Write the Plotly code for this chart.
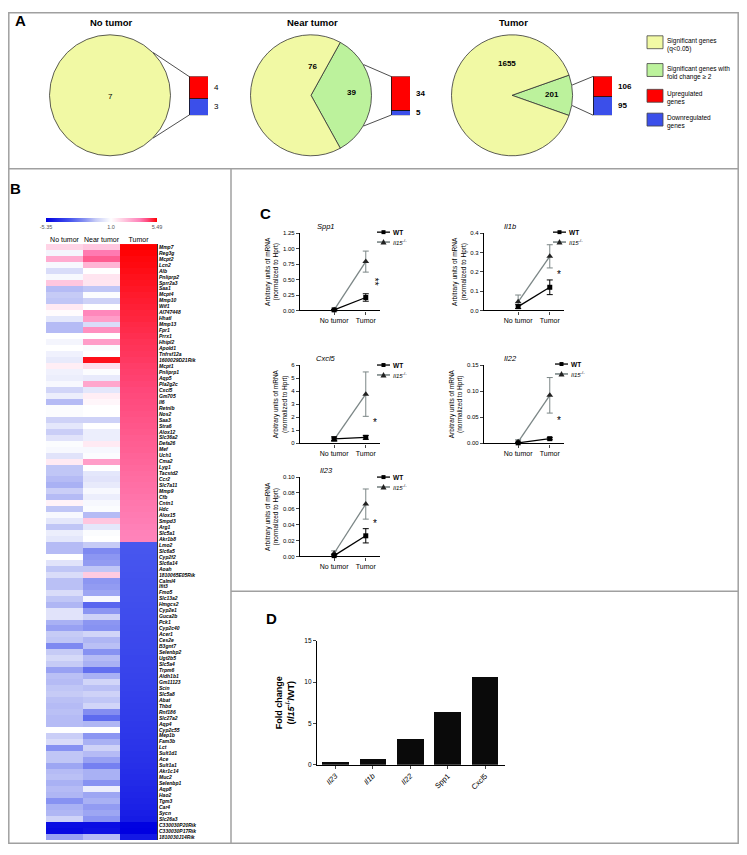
import math
import plotly.graph_objects as go

# the page body keeps an 8 px margin, so the figure is placed at (8, 8)
OFF = 8
W, H = 731, 839


def fx(p):
    return (p - OFF) / W


def fy(p):
    return 1 - (p - OFF) / H


# ---------------- panel A data
pie_groups = ["No tumor", "Near tumor", "Tumor"]
sig_only = [7, 76, 1655]
sig_fold = [0, 39, 201]
up_genes = [4, 34, 106]
down_genes = [3, 5, 95]

# ---------------- panel B data
genes = [
    "Mmp7", "Reg3g", "Mcpt2", "Lcn2", "Alb", "Pnliprp2", "Sprr2a3", "Saa1", "Mcpt4", "Mmp10",
    "Wif1", "AI747448", "Hhatl", "Mmp13", "Fpr1", "Prrx1", "Hhipl2", "Apold1", "Tnfrsf12a", "1600029D21Rik",
    "Mcpt1", "Pnliprp1", "Aqp5", "Pla2g2c", "Cxcl5", "Gm705", "Il6", "Retnlb", "Nos2", "Saa3",
    "Stra6", "Alox12", "Slc36a2", "Defa26", "Mef", "Uch1", "Cma2", "Lyg1", "Tacstd2", "Ccr2",
    "Slc7a11", "Mmp9", "Cfb", "Cntn1", "Hdc", "Alox15", "Smpd3", "Arg1", "Slc5a1", "Akr1b8",
    "Lmo2", "Slc6a5", "Cyp2f2", "Slc6a14", "Aoah", "1810065E05Rik", "Calml4", "Ifit3", "Fmo5", "Slc13a2",
    "Hmgcs2", "Cyp2e1", "Guca2b", "Pck1", "Cyp2c40", "Acer1", "Ces2e", "B3gnt7", "Selenbp2", "Ugt2b5",
    "Slc5a4", "Trpm6", "Aldh1b1", "Gm11123", "Scin", "Slc5a8", "Abat", "Thbd", "Rnf186", "Slc27a2",
    "Aqp4", "Cyp2c55", "Mep1b", "Fam3b", "Lct", "Sult1d1", "Ace", "Sult1a1", "Akr1c14", "Muc2",
    "Selenbp1", "Aqp8", "Hao2", "Tgm3", "Car4", "Sycn", "Slc26a3", "C330030P20Rik", "C330030P17Rik", "1810030J14Rik",
]
heat_cols = ["No tumor", "Near tumor", "Tumor"]
no_tumor = [
    2.0, 0.7, 2.9, 0.8, 0.0, 0.8, 2.3, -0.8, -0.5, -0.6, 1.5, 1.1, 0.3, -0.8, -0.8, 1.0, 0.7, 1.0,
    0.6, 0.4, 1.4, 0.6, 0.5, 0.8, -0.2, 0.5, -0.8, 0.9, 0.9, -0.3, 0.3, -0.4, 0.2, 0.9, 0.8, 0.2,
    1.5, -0.6, -0.6, -0.8, -1.0, -0.4, -0.8, 1.3, -0.6, 0.8, 0.3, -0.6, 0.5, 0.3,
    -0.8, -0.8, 1.0, 0.2, -0.6, 0.0, -0.7, -0.7, 0.0, -0.6, -0.9, 0.2, 0.2, -1.0, -1.3, -0.5,
    -0.6, -1.8, -0.5, -0.1, -0.5, -1.3, -0.7, -0.8,
    -0.6, -0.5, -0.7, -0.8, -0.7, -0.8, -0.8, 1.0, -0.4, 0.0, -1.6, -0.6, -0.6, -1.2, -0.8, -0.7,
    -1.0, -0.8, -0.9, -1.6, -1.0, -0.9, -0.3, -5.0, -5.1, -1.3,
]
near_tumor = [
    2.3, 3.9, 4.3, 2.7, 1.0, 1.6, 1.6, -0.6, 0.9, -0.3, 1.0, 3.7, 3.2, 0.0, 3.5, 1.0, 3.2, 0.9,
    1.0, 5.3, 1.8, 0.9, 0.4, 3.0, 0.3, 1.4, 1.2, 1.0, 1.0, -0.3, 1.0, 0.5, 0.5, 1.5, 0.8, 0.9,
    3.2, 1.0, 0.3, 0.2, 0.4, 0.8, 0.5, 0.8, 0.9, -0.8, 2.3, 0.3, 0.9, 1.0,
    -0.5, -1.8, -1.5, -1.4, -0.6, 2.2, -1.5, -1.4, -1.2, 0.8, -2.6, -1.5, -0.3, -1.5, -1.6, -0.2,
    -0.9, -0.7, -1.6, -0.8, -1.0, -2.4, -1.0, -0.2,
    -0.7, -0.3, -0.6, -0.2, -1.7, -2.5, -0.9, 1.0, -1.5, -1.0, -0.3, -0.8, -1.3, -2.0, -1.0, -1.0,
    -1.6, 0.5, -1.2, -1.0, -1.4, -1.2, -1.5, -5.0, -4.9, -0.8,
]
tumor = [
    5.49, 5.45, 5.40, 5.37, 5.33, 5.28, 5.25, 5.21, 5.16, 5.13, 5.09, 5.05, 5.02, 4.97, 4.94,
    4.90, 4.86, 4.83, 4.80, 4.76, 4.72, 4.69, 4.66, 4.62, 4.58, 4.55, 4.52, 4.49, 4.45, 4.41,
    4.38, 4.35, 4.31, 4.28, 4.25, 4.21, 4.18, 4.15, 4.11, 4.08, 4.05, 4.02, 3.98, 3.95, 3.92,
    3.89, 3.86, 3.83, 3.80, 3.78,
    -2.95, -2.98, -3.0, -3.03, -3.05, -3.08, -3.1, -3.12, -3.15, -3.17, -3.2, -3.22, -3.25,
    -3.27, -3.3, -3.32, -3.35, -3.37, -3.4, -3.43, -3.45, -3.48, -3.5, -3.53,
    -3.56, -3.6, -3.63, -3.66, -3.7, -3.73, -3.77, -3.8, -3.84, -3.88, -3.92, -3.96, -4.0,
    -4.05, -4.1, -4.15, -4.2, -4.26, -4.32, -4.38, -4.45, -4.52, -4.6, -5.3, -5.35, -4.7,
]
heat_min, heat_mid, heat_max = -5.35, 1.0, 5.49

# ---------------- panel C data
c_genes = ["Spp1", "Il1b", "Cxcl5", "Il22", "Il23"]
c_groups = ["No tumor", "Tumor"]
wt_nt = [0.01, 0.02, 0.35, 0.001, 0.001]
wt_nt_err = [0.005, 0.01, 0.15, 0.001, 0.001]
wt_t = [0.21, 0.12, 0.46, 0.009, 0.026]
wt_t_err = [0.06, 0.038, 0.15, 0.002, 0.009]
ko_nt = [0.01, 0.045, 0.28, 0.003, 0.004]
ko_nt_err = [0.01, 0.035, 0.12, 0.004, 0.003]
ko_t = [0.79, 0.28, 3.77, 0.092, 0.066]
ko_t_err = [0.17, 0.06, 1.7, 0.034, 0.019]
c_ymax = [1.25, 0.4, 6, 0.15, 0.10]
c_dtick = [0.25, 0.1, 1, 0.05, 0.02]
c_fmt = [".2f", ".1f", "d", ".2f", ".2f"]
c_stars = ["**", "*", "*", "*", "*"]
c_star_y = [0.46, 0.185, 1.58, 0.043, 0.041]

# ---------------- panel D data
d_genes = ["Il23", "Il1b", "Il22", "Spp1", "Cxcl5"]
d_italic = [True, True, True, False, False]
d_fold = [0.36, 0.72, 3.05, 6.38, 10.55]

FONT = "Liberation Sans, Arial, sans-serif"
yellow = "#F1F9A4"
green = "#BCF29C"
red = "#FF0000"
blue = "#3B4FEA"
ko_name = "<i>Il15</i><sup>-/-</sup>"

fig = go.Figure()
lay = {}
shapes = []
ann = []


def note(x, y, text, size=7, **kw):
    d = dict(x=fx(x), y=fy(y), xref="paper", yref="paper", text=text, showarrow=False,
             xanchor="center", yanchor="middle",
             font=dict(size=size, family=FONT, color="black"))
    d.update(kw)
    ann.append(d)


def pline(x0, y0, x1, y1, color="#222", width=0.8):
    shapes.append(dict(type="line", xref="paper", yref="paper", x0=fx(x0), y0=fy(y0),
                       x1=fx(x1), y1=fy(y1), line=dict(color=color, width=width)))


# ---------------- panel A
pie_cx = [110, 311, 512]
pie_cy, pie_r = 92, 61
bar_x0 = [189, 391, 593]
bar_top, bar_bot = 73, 112
num_pos = [[(110, 93, None)], [(312, 63, 0), (351, 89, 1)], [(507, 60, 0), (552, 91, 1)]]

for i, g in enumerate(pie_groups):
    cx = pie_cx[i]
    total = sig_only[i] + sig_fold[i]
    frac = sig_fold[i] / total
    if sig_fold[i] > 0:
        vals, cols = [sig_fold[i], sig_only[i]], [green, yellow]
    else:
        vals, cols = [sig_only[i]], [yellow]
    fig.add_trace(go.Pie(
        values=vals, sort=False, direction="clockwise", rotation=90 - 180 * frac,
        marker=dict(colors=cols, line=dict(color="#333333", width=0.8)),
        textinfo="none", hoverinfo="skip", showlegend=False,
        domain=dict(x=[fx(cx - pie_r), fx(cx + pie_r)], y=[fy(pie_cy + pie_r), fy(pie_cy - pie_r)]),
    ))
    note(cx + 1, 19, "<b>%s</b>" % g, size=9.5)

    for (x, y, which) in num_pos[i]:
        if which is None:
            note(x, y, "%d" % total, size=8)
        else:
            note(x, y, "<b>%d</b>" % (sig_only[i] if which == 0 else sig_fold[i]), size=8)

    # stacked up/down bar
    ax = "" if i == 0 else str(i + 1)
    s = up_genes[i] + down_genes[i]
    fig.add_trace(go.Bar(x=[0], y=[down_genes[i] / s], width=1, marker=dict(color=blue, line=dict(color="#111", width=0.8)),
                         xaxis="x" + ax, yaxis="y" + ax, showlegend=False, hoverinfo="skip"))
    fig.add_trace(go.Bar(x=[0], y=[up_genes[i] / s], width=1, marker=dict(color=red, line=dict(color="#111", width=0.8)),
                         xaxis="x" + ax, yaxis="y" + ax, showlegend=False, hoverinfo="skip"))
    lay["xaxis" + ax] = dict(domain=[fx(bar_x0[i]), fx(bar_x0[i] + 19)], range=[-0.5, 0.5], visible=False,
                             anchor="y" + ax, fixedrange=True)
    lay["yaxis" + ax] = dict(domain=[fy(bar_bot), fy(bar_top)], range=[0, 1], visible=False,
                             anchor="x" + ax, fixedrange=True)
    bold = "%d" if i == 0 else "<b>%d</b>"
    ann.append(dict(x=0.5, y=down_genes[i] / s + up_genes[i] / s / 2, xref="x" + ax, yref="y" + ax,
                    text=bold % up_genes[i], showarrow=False, xanchor="left", xshift=4,
                    font=dict(size=8, family=FONT, color="black")))
    ann.append(dict(x=0.5, y=down_genes[i] / s / 2, xref="x" + ax, yref="y" + ax,
                    text=bold % down_genes[i], showarrow=False, xanchor="left", xshift=4,
                    font=dict(size=8, family=FONT, color="black")))

    # connector lines from the pie to the bar
    half = 180 * frac / 2 if frac > 0 else 45
    px_ = cx + pie_r * math.cos(math.radians(half))
    dy_ = pie_r * math.sin(math.radians(half))
    pline(px_, pie_cy - dy_, bar_x0[i], bar_top)
    pline(px_, pie_cy + dy_, bar_x0[i], bar_bot)

# legend of panel A
leg_items = [(yellow, 32, "Significant genes<br>(q<0.05)"),
             (green, 60, "Significant genes with<br>fold change \u2265 2"),
             (red, 86, "Upregulated<br>genes"),
             (blue, 110, "Downregulated<br>genes")]
for col, y0, txt in leg_items:
    shapes.append(dict(type="rect", xref="paper", yref="paper", x0=fx(647), x1=fx(663), y0=fy(y0), y1=fy(y0 + 13),
                       fillcolor=col, line=dict(color="#444", width=0.8)))
    note(665, y0 - 1, txt, size=6.5, xanchor="left", yanchor="top", align="left")

# ---------------- panel B heatmap
z = [[no_tumor[k], near_tumor[k], tumor[k]] for k in range(len(genes))]
pos = lambda v: (v - heat_min) / (heat_max - heat_min)
cscale = [[0, "rgb(0,0,225)"], [pos(-3.0), "rgb(70,85,238)"], [pos(-1.5), "rgb(140,150,242)"],
          [pos(-0.5), "rgb(198,203,246)"], [pos(heat_mid), "rgb(255,255,255)"], [pos(2.0), "rgb(255,212,230)"],
          [pos(3.8), "rgb(255,130,185)"], [pos(4.6), "rgb(255,70,120)"], [1, "rgb(255,0,0)"]]
fig.add_trace(go.Heatmap(
    z=z, x=[0, 1, 2], y=list(range(len(genes))), zmin=heat_min, zmax=heat_max, colorscale=cscale,
    xaxis="x4", yaxis="y4", hoverinfo="skip",
    colorbar=dict(orientation="h", x=fx(101.5), xanchor="center", y=fy(216), yanchor="top",
                  len=111, lenmode="pixels", thickness=4, thicknessmode="pixels",
                  tickvals=[heat_min, heat_mid, heat_max], ticktext=["-5.35", "1.0", "5.49"],
                  tickfont=dict(size=5.5, color="#555", family=FONT), ticks="", outlinewidth=0,
                  xpad=0, ypad=0),
))
lay["xaxis4"] = dict(domain=[fx(46), fx(157)], range=[-0.5, 2.5], anchor="y4", side="top",
                     tickvals=[0, 1, 2], ticktext=heat_cols, ticks="", showgrid=False, zeroline=False,
                     tickfont=dict(size=7, family=FONT, color="black"))
lay["yaxis4"] = dict(domain=[fy(843), fy(242)], range=[len(genes) - 0.5, -0.5], anchor="x4", side="right",
                     tickvals=list(range(len(genes))), ticktext=["<b><i>%s</i></b>" % g for g in genes],
                     ticks="", showgrid=False, zeroline=False, showline=True, linecolor="#333", linewidth=1,
                     tickfont=dict(size=5, family=FONT, color="black"))

# ---------------- panel C
c_box = [(300, 231, 309), (484, 231, 309), (300, 364, 443), (484, 364, 443), (300, 477, 557)]
leg_x = [377, 553, 377, 555, 377]
leg_y = [230, 230, 364, 363, 477]
wt_col = "black"
ko_col = "#7B8686"
for k, g in enumerate(c_genes):
    n = str(k + 5)
    x0, yt, yb = c_box[k]
    fig.add_trace(go.Scatter(
        x=[0, 1], y=[ko_nt[k], ko_t[k]], mode="lines+markers", name=ko_name, showlegend=False,
        line=dict(color=ko_col, width=1.3), marker=dict(symbol="triangle-up", size=6, color="#222"),
        error_y=dict(type="data", array=[ko_nt_err[k], ko_t_err[k]], color=ko_col, thickness=1, width=3),
        xaxis="x" + n, yaxis="y" + n, cliponaxis=False, hoverinfo="skip"))
    fig.add_trace(go.Scatter(
        x=[0, 1], y=[wt_nt[k], wt_t[k]], mode="lines+markers", name="WT", showlegend=False,
        line=dict(color=wt_col, width=1.3), marker=dict(symbol="square", size=5, color=wt_col),
        error_y=dict(type="data", array=[wt_nt_err[k], wt_t_err[k]], color=wt_col, thickness=1, width=3),
        xaxis="x" + n, yaxis="y" + n, cliponaxis=False, hoverinfo="skip"))
    lay["xaxis" + n] = dict(domain=[fx(x0), fx(x0 + 80)], range=[-1.08, 1.45], anchor="y" + n,
                            tickvals=[0, 1], ticktext=c_groups, ticks="outside", ticklen=3,
                            showline=True, linecolor="black", linewidth=1.3, showgrid=False, zeroline=False,
                            tickfont=dict(size=7, family=FONT, color="black"), fixedrange=True)
    lay["yaxis" + n] = dict(domain=[fy(yb), fy(yt)], range=[0, c_ymax[k]], anchor="x" + n,
                            dtick=c_dtick[k], tick0=0, tickformat=c_fmt[k], ticks="outside", ticklen=3,
                            showline=True, linecolor="black", linewidth=1.3, showgrid=False, zeroline=False,
                            tickfont=dict(size=6, family=FONT, color="black"), fixedrange=True,
                            title=dict(text="Arbitrary units of mRNA<br>(normalized to Hprt)", standoff=3,
                                       font=dict(size=6.5, family=FONT, color="black")))
    ann.append(dict(x=-0.25, y=c_ymax[k], xref="x" + n, yref="y" + n, text="<i>%s</i>" % g, showarrow=False,
                    xanchor="center", yanchor="bottom", font=dict(size=7.5, family=FONT, color="black")))
    ann.append(dict(x=1.3, y=c_star_y[k], xref="x" + n, yref="y" + n, text=c_stars[k], showarrow=False,
                    xanchor="center", yanchor="middle",
                    textangle=90 if len(c_stars[k]) > 1 else 0, font=dict(size=10, family=FONT, color="black")))

    # compact legend: line sample, marker and name
    lx, ly = leg_x[k], leg_y[k]
    pline(lx, ly, lx + 13, ly, color=wt_col, width=1.3)
    shapes.append(dict(type="rect", xref="paper", yref="paper", x0=fx(lx + 4.5), x1=fx(lx + 8.5),
                       y0=fy(ly + 2), y1=fy(ly - 2), fillcolor=wt_col, line=dict(width=0)))
    note(lx + 14, ly, "<b>WT</b>", size=6.5, xanchor="left")
    ly2 = ly + 10
    pline(lx, ly2, lx + 13, ly2, color=ko_col, width=1.6)
    tri = "M %f,%f L %f,%f L %f,%f Z" % (fx(lx + 3.5), fy(ly2 + 2.5), fx(lx + 9.5), fy(ly2 + 2.5),
                                         fx(lx + 6.5), fy(ly2 - 3))
    shapes.append(dict(type="path", xref="paper", yref="paper", path=tri, fillcolor="#222", line=dict(width=0)))
    note(lx + 14, ly2, ko_name, size=6, xanchor="left")

# ---------------- panel D
d_labels = ["<i>%s</i>" % g if it else g for g, it in zip(d_genes, d_italic)]
fig.add_trace(go.Bar(x=d_labels, y=d_fold, width=0.71, marker=dict(color="#0A0A0A", line=dict(width=0)),
                     xaxis="x10", yaxis="y10", showlegend=False, hoverinfo="skip"))
lay["xaxis10"] = dict(domain=[fx(317), fx(505)], range=[-0.49, 4.53], anchor="y10", tickangle=-45,
                      ticks="outside", ticklen=3, showline=True, linecolor="black", linewidth=1.2,
                      tickfont=dict(size=7.5, family=FONT, color="black"), fixedrange=True)
lay["yaxis10"] = dict(domain=[fy(767), fy(642)], range=[0, 15], anchor="x10", dtick=5, ticks="outside",
                      ticklen=3, showline=True, linecolor="black", linewidth=1.2, showgrid=False, zeroline=False,
                      tickfont=dict(size=6.5, family=FONT, color="black"), fixedrange=True,
                      title=dict(text="<b>Fold change</b><br><b>(<i>Il15</i><sup>-/-</sup>/WT)</b>", standoff=8,
                                 font=dict(size=9, family=FONT, color="black")))

# ---------------- frame and panel letters
frame = dict(color="#A0A0A0", width=1.5)
left, right, top, bottom = OFF + 0.8, OFF + W - 0.8, OFF + 0.8, OFF + H - 0.8
shapes.append(dict(type="rect", xref="paper", yref="paper", x0=fx(left), x1=fx(right), y0=fy(bottom), y1=fy(top), line=frame))
for (a, b, c, d) in [(left, 166, right, 166), (231, 166, 231, bottom), (231, 592, right, 592)]:
    shapes.append(dict(type="line", xref="paper", yref="paper", x0=fx(a), y0=fy(b), x1=fx(c), y1=fy(d), line=frame))
for letter, x, y in [("A", 20, 17), ("B", 15, 186), ("C", 265, 211), ("D", 271, 620)]:
    note(x, y, "<b>%s</b>" % letter, size=15)

fig.update_layout(
    width=W, height=H, margin=dict(l=0, r=0, t=0, b=0), autosize=False,
    paper_bgcolor="white", plot_bgcolor="rgba(0,0,0,0)", barmode="stack", showlegend=False,
    font=dict(family=FONT, color="black"), shapes=shapes, annotations=ann, **lay,
)
fig.write_html("out.html")
